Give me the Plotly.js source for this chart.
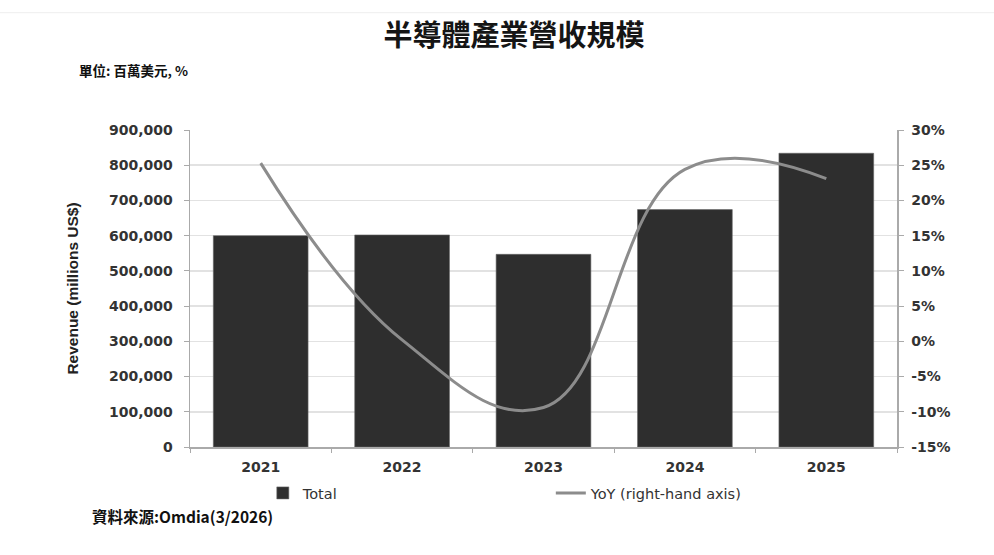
<!DOCTYPE html>
<html><head><meta charset="utf-8">
<script src="https://cdn.plot.ly/plotly-3.0.1.min.js"></script>
<style>html,body{margin:0;padding:0;background:#fff;}#chart{width:994px;height:555px;}</style>
</head><body><div id="chart"></div>
<script>
const years = ['2021','2022','2023','2024','2025'];
const revenue = [600000, 602000, 547000, 674000, 834000];
const yoy = [25.3, 0.2, -9.4, 24.4, 23.1];
const leftTicks = [0,100000,200000,300000,400000,500000,600000,700000,800000,900000];
const leftTickText = ['0','100,000','200,000','300,000','400,000','500,000','600,000','700,000','800,000','900,000'];
const rightTicks = [-15,-10,-5,0,5,10,15,20,25,30];
const rightTickText = ['-15%','-10%','-5%','0%','5%','10%','15%','20%','25%','30%'];

const font = '"DejaVu Sans", Verdana, sans-serif';
const cjk = '"Noto Sans CJK TC", "Noto Sans CJK SC", sans-serif';
const tickFont = {family:font, size:14, color:'#333', weight:700};

const traces = [
  {type:'bar', x:years, y:revenue, name:'Total', marker:{color:'#2e2e2e', line:{color:'#666', width:0.6}}},
  {type:'scatter', mode:'lines', x:years, y:yoy, yaxis:'y2', name:'YoY (right-hand axis)',
   line:{color:'#8c8c8c', width:3, shape:'spline', smoothing:1.2}}
];

const layout = {
  width:994, height:555,
  margin:{l:190, r:97, t:130, b:108},
  paper_bgcolor:'#fff', plot_bgcolor:'#fff',
  font:{family:font, color:'#333', size:12},
  bargap:0.33,
  showlegend:true,
  legend:{orientation:'h', x:0.103, xanchor:'left', y:-0.145, yanchor:'middle',
          font:{family:font, size:14.5, color:'#333'}, entrywidth:243, entrywidthmode:'pixels',
          traceorder:'normal', itemwidth:30},
  title:{text:'半導體產業營收規模', x:514/994, xref:'container', xanchor:'center', yref:'container', y:1-36/555, yanchor:'middle',
         font:{family:cjk, size:29, color:'#151515', weight:700}},
  xaxis:{type:'category', showline:true, linecolor:'#aaa', linewidth:1.5, ticks:'outside', tickson:'boundaries',
         ticklen:4, tickcolor:'#aaa', tickfont:tickFont, showgrid:false, ticklabelstandoff:7},
  yaxis:{range:[0,900000], tickvals:leftTicks, ticktext:leftTickText, showline:true, linecolor:'#aaa', linewidth:1.5,
         ticks:'outside', ticklen:5, tickcolor:'#aaa', gridcolor:'#e2e2e2', gridwidth:1.5,
         tickfont:tickFont, zeroline:false, ticklabelstandoff:8,
         title:{text:'Revenue (millions US$)', font:{family:'Liberation Sans, Arial, sans-serif', size:15.5, color:'#222', weight:700}, standoff:26}},
  yaxis2:{overlaying:'y', side:'right', range:[-15,30], tickvals:rightTicks, ticktext:rightTickText,
          showline:true, linecolor:'#aaa', linewidth:1.5, ticks:'outside', ticklen:5, tickcolor:'#aaa',
          showgrid:false, zeroline:false, tickfont:tickFont, ticklabelstandoff:5},
  annotations:[
    {text:'單位: 百萬美元, %', xref:'paper', yref:'paper', x:-0.16, y:1.189, xanchor:'left', yanchor:'middle',
     showarrow:false, font:{family:cjk, size:13.5, color:'#111', weight:700}},
    {text:'資料來源:Omdia(3/2026)', xref:'paper', yref:'paper', x:-0.1414, y:-0.217, xanchor:'left', yanchor:'middle',
     showarrow:false, font:{family:cjk, size:15.5, color:'#111', weight:700}}
  ],
  shapes:[{type:'line', xref:'paper', yref:'paper', x0:-0.27, x1:1.14, y0:1.37, y1:1.37, line:{color:'#eee', width:1}}]
};
Plotly.newPlot('chart', traces, layout, {displayModeBar:false, staticPlot:true});
</script></body></html>
